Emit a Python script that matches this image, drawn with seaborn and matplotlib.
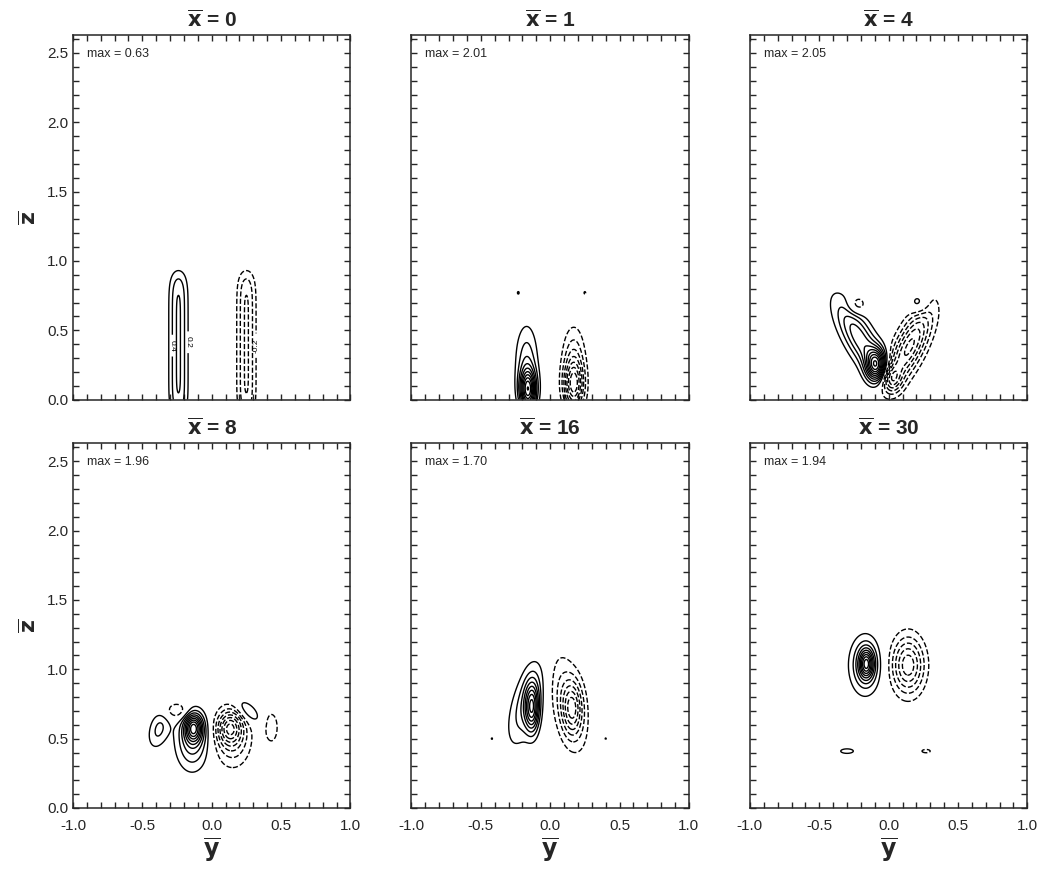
import numpy as np
import seaborn as sns
import matplotlib
matplotlib.use('Agg')
import matplotlib.pyplot as plt
from matplotlib.ticker import MultipleLocator, FormatStrFormatter

# streamwise stations and peak values printed in each panel
x_stations = [0, 1, 4, 8, 16, 30]
max_vals = [0.63, 2.01, 2.05, 1.96, 1.70, 1.94]

# vortex blobs, one list per panel
# (y centre, z centre, y width, z width, amplitude, tilt in degrees[, z power])
blobs_x0 = [(-0.24, 0.40, 0.046, 0.476, 0.63, 0, 7.7),
            (0.25, 0.40, 0.046, 0.476, -0.63, 0, 7.7)]
blobs_x1 = [(-0.16, 0.07, 0.04, 0.10, 1.7, 0),
            (-0.17, 0.28, 0.055, 0.18, 0.5, 0),
            (0.17, 0.10, 0.05, 0.12, -1.3, 0),
            (0.17, 0.30, 0.055, 0.16, -0.5, 0),
            (-0.23, 0.77, 0.008, 0.012, 0.25, 0),
            (0.25, 0.77, 0.008, 0.012, -0.25, 0)]
blobs_x4 = [(-0.09, 0.25, 0.05, 0.08, 1.5, 0),
            (-0.21, 0.44, 0.21, 0.07, 0.9, 119),
            (0.15, 0.38, 0.21, 0.07, -1.2, 64),
            (0.02, 0.15, 0.05, 0.07, -0.8, 0),
            (-0.23, 0.68, 0.05, 0.05, -0.4, 0),
            (0.22, 0.69, 0.05, 0.055, 0.4, 0)]
blobs_x8 = [(-0.13, 0.58, 0.045, 0.07, 1.4, 0),
            (-0.14, 0.48, 0.08, 0.14, 0.7, 0),
            (0.13, 0.58, 0.06, 0.08, -1.0, 0),
            (0.15, 0.50, 0.09, 0.14, -0.6, 0),
            (-0.38, 0.57, 0.05, 0.10, 0.45, -15),
            (0.26, 0.70, 0.08, 0.04, 0.45, -45),
            (-0.25, 0.70, 0.07, 0.045, -0.45, 0),
            (0.43, 0.58, 0.035, 0.08, -0.4, 0)]
blobs_x16 = [(-0.13, 0.72, 0.035, 0.12, 1.3, 0),
             (-0.17, 0.76, 0.21, 0.07, 0.6, 74),
             (0.16, 0.72, 0.05, 0.13, -0.9, 0),
             (0.13, 0.76, 0.24, 0.08, -0.55, 101),
             (-0.42, 0.50, 0.006, 0.008, 0.25, 0),
             (0.40, 0.50, 0.006, 0.008, -0.25, 0)]
blobs_x30 = [(-0.16, 1.04, 0.035, 0.07, 1.3, 0),
             (-0.17, 1.03, 0.075, 0.14, 0.75, 0),
             (0.14, 1.03, 0.08, 0.14, -1.2, 0),
             (-0.30, 0.41, 0.045, 0.016, 0.35, 0),
             (0.27, 0.41, 0.035, 0.014, -0.3, 0)]
all_blobs = [blobs_x0, blobs_x1, blobs_x4, blobs_x8, blobs_x16, blobs_x30]

contour_step = 0.2

sns.set_style('ticks')
plt.rcParams['font.family'] = ['Liberation Sans', 'DejaVu Sans']
plt.rcParams['mathtext.fontset'] = 'dejavusans'

yy = np.linspace(-1, 1, 500)
zz = np.linspace(0, 2.63, 650)
Y, Z = np.meshgrid(yy, zz)


def field(blobs):
    f = np.zeros_like(Y)
    for b in blobs:
        y0, z0, sy, sz, amp, tilt = b[:6]
        p = b[6] if len(b) > 6 else 2
        t = np.deg2rad(tilt)
        dy, dz = Y - y0, Z - z0
        u = dy * np.cos(t) + dz * np.sin(t)
        v = -dy * np.sin(t) + dz * np.cos(t)
        f += amp * np.exp(-0.5 * ((u / sy) ** 2 + np.abs(v / sz) ** p))
    return f


fig, axes = plt.subplots(2, 3, figsize=(10.43, 8.73), dpi=100)
fig.subplots_adjust(left=0.070, right=0.985, bottom=0.0745, top=0.960,
                    wspace=0.22, hspace=0.12)

for i, ax in enumerate(axes.flat):
    F = field(all_blobs[i])
    # rescale so the peak matches the printed max
    F = F * max_vals[i] / np.abs(F).max()
    top = np.floor(max_vals[i] / contour_step) * contour_step
    pos = np.arange(contour_step, top + 1e-6, contour_step)
    levels = np.concatenate([-pos[::-1], pos])
    cs = ax.contour(Y, Z, F, levels=levels, colors='black', linewidths=1.0)
    if i == 0:
        ax.clabel(cs, levels=[-0.2, 0.2, 0.4], fontsize=6, fmt='%.1f')

    ax.set_xlim(-1, 1)
    ax.set_ylim(0, 2.63)
    ax.xaxis.set_major_locator(MultipleLocator(0.5))
    ax.xaxis.set_minor_locator(MultipleLocator(0.1))
    ax.yaxis.set_major_locator(MultipleLocator(0.5))
    ax.yaxis.set_minor_locator(MultipleLocator(0.1))
    ax.tick_params(which='both', direction='in', top=True, right=True,
                   length=4, width=1, labelsize=11)
    ax.tick_params(axis='x', pad=8)
    for sp in ax.spines.values():
        sp.set_linewidth(1.1)

    ax.set_title(r'$\mathbf{\overline{x}}$ = %d' % x_stations[i],
                 fontsize=15, fontweight='bold', pad=6)
    ax.text(0.05, 0.965, 'max = %.2f' % max_vals[i], transform=ax.transAxes,
            fontsize=9, va='top')

    if i % 3 == 0:
        ax.set_ylabel(r'$\mathbf{\overline{z}}$', fontsize=16)
        ax.yaxis.set_major_formatter(FormatStrFormatter('%.1f'))
    else:
        ax.tick_params(labelleft=False)
    if i >= 3:
        ax.set_xlabel(r'$\mathbf{\overline{y}}$', fontsize=17, labelpad=2)
        ax.xaxis.set_major_formatter(FormatStrFormatter('%.1f'))
    else:
        ax.tick_params(labelbottom=False)

fig.savefig('out.png', dpi=100)
